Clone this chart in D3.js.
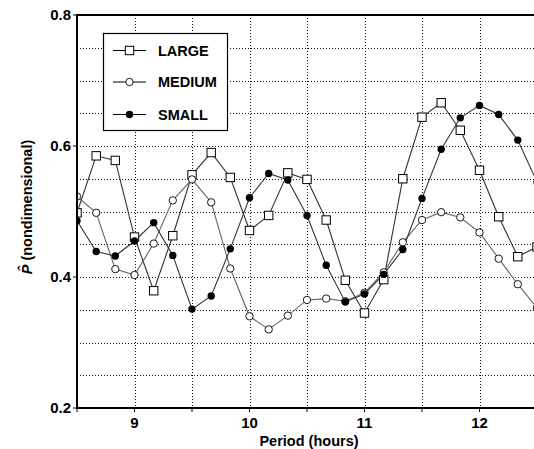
<!DOCTYPE html>
<html>
<head>
    <script src="https://cdnjs.cloudflare.com/ajax/libs/d3/7.8.5/d3.min.js"></script>
    <style>
        body { margin: 0; background: #fff; }
        svg { display: block; font-family: "Liberation Sans", Arial, sans-serif; font-weight: bold; }
    </style>
</head>
<body>
    <div id="chart"></div>
    <script>
        // period (hours), one sample every 10 minutes
        var periods = [8.5, 8.667, 8.833, 9.0, 9.167, 9.333, 9.5, 9.667, 9.833, 10.0, 10.167, 10.333, 10.5,
            10.667, 10.833, 11.0, 11.167, 11.333, 11.5, 11.667, 11.833, 12.0, 12.167, 12.333, 12.5];
        var largeVals = [0.498, 0.585, 0.578, 0.461, 0.379, 0.463, 0.556, 0.590, 0.552, 0.471, 0.494, 0.559, 0.549,
            0.487, 0.395, 0.345, 0.396, 0.550, 0.644, 0.666, 0.624, 0.563, 0.492, 0.431, 0.446];
        var mediumVals = [0.523, 0.498, 0.412, 0.403, 0.451, 0.517, 0.549, 0.514, 0.413, 0.340, 0.320, 0.341, 0.365,
            0.367, 0.363, 0.376, 0.407, 0.453, 0.487, 0.499, 0.491, 0.468, 0.428, 0.389, 0.353];
        var smallVals = [0.486, 0.439, 0.432, 0.455, 0.483, 0.433, 0.351, 0.371, 0.443, 0.521, 0.558, 0.548, 0.494,
            0.418, 0.362, 0.374, 0.404, 0.442, 0.520, 0.595, 0.643, 0.662, 0.648, 0.609, 0.545];
        var seriesNames = ["LARGE", "MEDIUM", "SMALL"];
        var xTicks = [9, 10, 11, 12];
        var yTicks = [0.2, 0.4, 0.6, 0.8];

        var width = 534, height = 449;
        var plotL = 77, plotT = 15, plotR = 537, plotB = 408;

        var svg = d3.select("#chart").append("svg")
            .attr("width", width)
            .attr("height", height);

        svg.append("rect").attr("width", width).attr("height", height).attr("fill", "#fff");

        var x = d3.scaleLinear().domain([8.5, 12.5]).range([plotL, plotR]);
        var y = d3.scaleLinear().domain([0.2, 0.8]).range([plotB, plotT]);

        svg.append("clipPath").attr("id", "plotclip")
            .append("rect")
            .attr("x", plotL).attr("y", plotT)
            .attr("width", plotR - plotL).attr("height", plotB - plotT);

        // dotted grid
        var grid = svg.append("g");
        for (var gx = 9; gx <= 12; gx += 0.5) {
            grid.append("line")
                .attr("x1", Math.round(x(gx)) + 0.5).attr("x2", Math.round(x(gx)) + 0.5)
                .attr("y1", plotT).attr("y2", plotB)
                .attr("stroke", "#111").attr("stroke-dasharray", "1,2");
        }
        for (var gy = 0.25; gy < 0.79; gy += 0.05) {
            grid.append("line")
                .attr("x1", plotL).attr("x2", plotR)
                .attr("y1", Math.round(y(gy)) + 0.5).attr("y2", Math.round(y(gy)) + 0.5)
                .attr("stroke", "#111").attr("stroke-dasharray", "1,2");
        }

        var series = [
            { name: "LARGE", values: largeVals, marker: "square", line: "#333" },
            { name: "MEDIUM", values: mediumVals, marker: "open", line: "#666" },
            { name: "SMALL", values: smallVals, marker: "filled", line: "#333" }
        ];

        var lineGen = d3.line()
            .x(function (d, i) { return x(periods[i]); })
            .y(function (d) { return y(d); });

        function drawMarker(g, kind, cx, cy) {
            if (kind === "square") {
                g.append("rect")
                    .attr("x", cx - 4.2).attr("y", cy - 4.2)
                    .attr("width", 8.4).attr("height", 8.4)
                    .attr("fill", "#fff").attr("stroke", "#000").attr("stroke-width", 1);
            } else if (kind === "open") {
                g.append("circle")
                    .attr("cx", cx).attr("cy", cy).attr("r", 3.7)
                    .attr("fill", "#fff").attr("stroke", "#000").attr("stroke-width", 0.9);
            } else {
                g.append("circle")
                    .attr("cx", cx).attr("cy", cy).attr("r", 3.7)
                    .attr("fill", "#000");
            }
        }

        var plot = svg.append("g").attr("clip-path", "url(#plotclip)");
        for (var s = 0; s < series.length; s++) {
            plot.append("path")
                .datum(series[s].values)
                .attr("d", lineGen)
                .attr("fill", "none")
                .attr("stroke", series[s].line)
                .attr("stroke-width", 1.1);
        }
        for (var s2 = 0; s2 < series.length; s2++) {
            var vals = series[s2].values;
            for (var i = 0; i < vals.length; i++) {
                drawMarker(plot, series[s2].marker, x(periods[i]), y(vals[i]));
            }
        }

        // axes frame
        svg.append("line").attr("x1", plotL).attr("x2", width).attr("y1", plotT).attr("y2", plotT)
            .attr("stroke", "#000").attr("stroke-width", 2);
        svg.append("line").attr("x1", plotL).attr("x2", plotL).attr("y1", plotT - 1).attr("y2", plotB + 1)
            .attr("stroke", "#000").attr("stroke-width", 2);
        svg.append("line").attr("x1", plotL).attr("x2", width).attr("y1", plotB).attr("y2", plotB)
            .attr("stroke", "#000").attr("stroke-width", 2);

        // x ticks every half hour, labels on whole hours
        for (var tx = 8.5; tx <= 12.5; tx += 0.5) {
            svg.append("line")
                .attr("x1", x(tx)).attr("x2", x(tx))
                .attr("y1", plotB).attr("y2", plotB + 4)
                .attr("stroke", "#000");
        }
        svg.selectAll(".xlab").data(xTicks).enter().append("text")
            .attr("x", function (d) { return x(d); })
            .attr("y", 428)
            .attr("text-anchor", "middle")
            .style("font-size", "15px")
            .text(function (d) { return d; });

        svg.selectAll(".ytick").data(yTicks).enter().append("line")
            .attr("x1", plotL - 4).attr("x2", plotL)
            .attr("y1", function (d) { return y(d); })
            .attr("y2", function (d) { return y(d); })
            .attr("stroke", "#000");
        svg.selectAll(".ylab").data(yTicks).enter().append("text")
            .attr("x", 71)
            .attr("y", function (d) { return y(d) + 5; })
            .attr("text-anchor", "end")
            .style("font-size", "15px")
            .text(function (d) { return d.toFixed(1); });

        svg.append("text")
            .attr("x", (plotL + plotR) / 2 + 2)
            .attr("y", 446)
            .attr("text-anchor", "middle")
            .style("font-size", "14.5px")
            .text("Period (hours)");

        var ylab = svg.append("text")
            .attr("transform", "translate(32,207) rotate(-90)")
            .attr("text-anchor", "middle")
            .style("font-size", "14.5px");
        ylab.append("tspan").style("font-style", "italic").text("P\u0302");
        ylab.append("tspan").text(" (nondimensional)");

        // legend
        var legend = svg.append("g");
        legend.append("rect")
            .attr("x", 103.5).attr("y", 33.5)
            .attr("width", 124).attr("height", 97)
            .attr("fill", "#fff").attr("stroke", "#000").attr("stroke-width", 1.2);
        var rowY = [50.5, 82, 114.5];
        var kinds = ["square", "open", "filled"];
        for (var r = 0; r < seriesNames.length; r++) {
            legend.append("line")
                .attr("x1", 113).attr("x2", 146)
                .attr("y1", rowY[r]).attr("y2", rowY[r])
                .attr("stroke", "#000");
            drawMarker(legend, kinds[r], 129.5, rowY[r]);
            legend.append("text")
                .attr("x", 158)
                .attr("y", rowY[r] + 5)
                .style("font-size", "14.5px")
                .text(seriesNames[r]);
        }
    </script>
</body>
</html>
